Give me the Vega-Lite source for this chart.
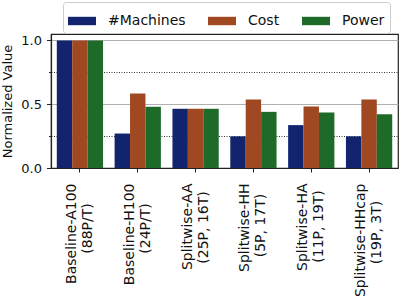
{
  "$schema": "https://vega.github.io/schema/vega-lite/v6.json",
  "width": 347,
  "height": 134,
  "autosize": "none",
  "padding": {"left": 51, "top": 34, "right": 1, "bottom": 129},
  "config": {
    "font": "DejaVu Sans",
    "view": {"stroke": "#222", "strokeWidth": 1.2},
    "axis": {"domainColor": "#222", "tickColor": "#222", "labelColor": "#111", "titleColor": "#111", "domainWidth": 1.2}
  },
  "data": {
    "values": [
      {"config": "Baseline-A100\n(88P/T)", "metric": "#Machines", "value": 1.0},
      {"config": "Baseline-A100\n(88P/T)", "metric": "Cost", "value": 1.0},
      {"config": "Baseline-A100\n(88P/T)", "metric": "Power", "value": 1.0},
      {"config": "Baseline-H100\n(24P/T)", "metric": "#Machines", "value": 0.27},
      {"config": "Baseline-H100\n(24P/T)", "metric": "Cost", "value": 0.584},
      {"config": "Baseline-H100\n(24P/T)", "metric": "Power", "value": 0.479},
      {"config": "Splitwise-AA\n(25P, 16T)", "metric": "#Machines", "value": 0.464},
      {"config": "Splitwise-AA\n(25P, 16T)", "metric": "Cost", "value": 0.464},
      {"config": "Splitwise-AA\n(25P, 16T)", "metric": "Power", "value": 0.464},
      {"config": "Splitwise-HH\n(5P, 17T)", "metric": "#Machines", "value": 0.248},
      {"config": "Splitwise-HH\n(5P, 17T)", "metric": "Cost", "value": 0.537},
      {"config": "Splitwise-HH\n(5P, 17T)", "metric": "Power", "value": 0.44},
      {"config": "Splitwise-HA\n(11P, 19T)", "metric": "#Machines", "value": 0.336},
      {"config": "Splitwise-HA\n(11P, 19T)", "metric": "Cost", "value": 0.482},
      {"config": "Splitwise-HA\n(11P, 19T)", "metric": "Power", "value": 0.435},
      {"config": "Splitwise-HHcap\n(19P, 3T)", "metric": "#Machines", "value": 0.248},
      {"config": "Splitwise-HHcap\n(19P, 3T)", "metric": "Cost", "value": 0.537},
      {"config": "Splitwise-HHcap\n(19P, 3T)", "metric": "Power", "value": 0.422}
    ]
  },
  "layer": [
    {
      "mark": {"type": "bar"},
      "encoding": {
        "x": {
          "field": "config", "type": "nominal", "sort": null,
          "scale": {"paddingInner": 0.2, "paddingOuter": 0.1},
          "axis": {
            "orient": "bottom", "title": null, "labelAngle": 270, "labelAlign": "right", "labelBaseline": "middle",
            "labelFontSize": 14, "labelPadding": 11, "tickSize": 4, "labelOffset": -8,
            "labelExpr": "split(datum.label, '\\n')[0]", "labelLimit": 300
          }
        },
        "xOffset": {"field": "metric", "sort": ["#Machines", "Cost", "Power"]},
        "y": {
          "field": "value", "type": "quantitative",
          "scale": {"domain": [0, 1.05], "nice": false},
          "axis": {
            "title": "Normalized Value", "titleFontSize": 13, "titleFontWeight": "normal", "titlePadding": 6,
            "values": [0, 0.25, 0.5, 0.75, 1],
            "labelExpr": "datum.value == 0.25 || datum.value == 0.75 ? '' : format(datum.value, '.1f')",
            "labelFontSize": 13, "labelPadding": 5,
            "tickSize": {"condition": {"test": "datum.value == 0.25 || datum.value == 0.75", "value": 2.5}, "value": 4.5},
            "gridColor": {"condition": {"test": "datum.value == 0.25 || datum.value == 0.75", "value": "#333"}, "value": "#b0b0b0"},
            "gridDash": {"condition": {"test": "datum.value == 0.25 || datum.value == 0.75", "value": [1, 1.5]}, "value": []},
            "gridOpacity": 1
          }
        },
        "color": {
          "field": "metric", "type": "nominal",
          "scale": {"domain": ["#Machines", "Cost", "Power"], "range": ["#12246e", "#a04822", "#1e6a28"]},
          "legend": {
            "orient": "none", "legendX": 12, "legendY": -32, "direction": "horizontal", "title": null,
            "symbolType": "M-1,-0.3H1V0.3H-1Z", "symbolSize": 784, "labelFontSize": 14, "labelOffset": 12,
            "columnPadding": 22, "padding": 5, "strokeColor": "#cccccc", "cornerRadius": 3,
            "symbolStrokeWidth": 0, "symbolOpacity": 1, "labelColor": "#111"
          }
        }
      }
    },
    {
      "mark": {"type": "bar", "opacity": 0},
      "encoding": {
        "x": {
          "field": "config", "type": "nominal", "sort": null,
          "scale": {"paddingInner": 0.2, "paddingOuter": 0.1},
          "axis": {
            "orient": "bottom", "title": null, "labelAngle": 270, "labelAlign": "center", "labelBaseline": "middle",
            "labelFontSize": 14, "domain": false, "ticks": false, "tickSize": 0, "labelOffset": 8,
            "labelPadding": {"condition": [
              {"test": "indexof(datum.value, 'HHcap') >= 0", "value": 64},
              {"test": "indexof(datum.value, '100') >= 0", "value": 60},
              {"test": "indexof(datum.value, 'AA') >= 0", "value": 59},
              {"test": "indexof(datum.value, 'HH') >= 0", "value": 57}
            ], "value": 58},
            "labelExpr": "split(datum.label, '\\n')[1]", "labelLimit": 300
          }
        }
      }
    }
  ],
  "resolve": {"axis": {"x": "independent"}}
}
